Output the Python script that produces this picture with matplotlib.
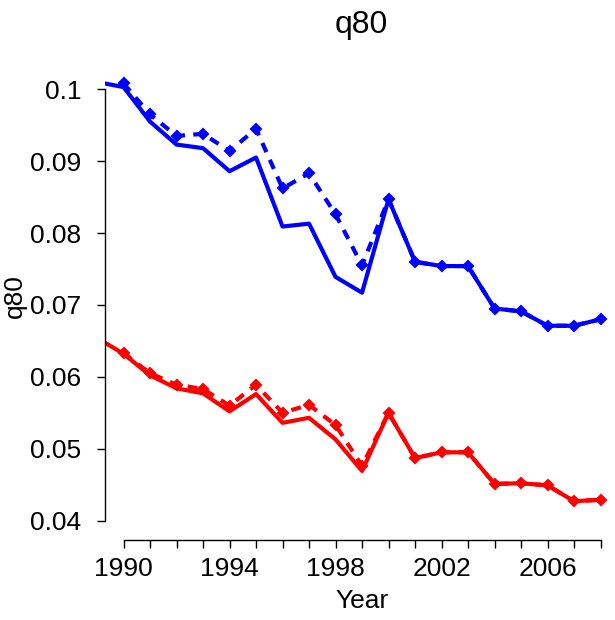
import matplotlib.pyplot as plt

plt.rcParams['font.family'] = ['Liberation Sans', 'DejaVu Sans']

years_solid = list(range(1989, 2009))
years_dash = list(range(1990, 2009))

blue_solid = [0.1010, 0.1003, 0.0955, 0.0923, 0.0918, 0.0886, 0.0905, 0.0809, 0.0813,
              0.0739, 0.0717, 0.0847, 0.0760, 0.0754, 0.0754, 0.0695, 0.0691, 0.0671,
              0.0671, 0.0680]
blue_dash = [0.1008, 0.0965, 0.0935, 0.0938, 0.0914, 0.0945, 0.0862, 0.0883, 0.0826,
             0.0755, 0.0847, 0.0760, 0.0754, 0.0754, 0.0695, 0.0691, 0.0671, 0.0671,
             0.0680]
red_solid = [0.0654, 0.0632, 0.0602, 0.0584, 0.0577, 0.0552, 0.0576, 0.0536, 0.0543,
             0.0513, 0.0469, 0.0550, 0.0487, 0.0495, 0.0495, 0.0451, 0.0452, 0.0449,
             0.0427, 0.0429]
red_dash = [0.0633, 0.0605, 0.0589, 0.0583, 0.0560, 0.0589, 0.0550, 0.0561, 0.0533,
            0.0476, 0.0550, 0.0487, 0.0495, 0.0495, 0.0451, 0.0452, 0.0449, 0.0427,
            0.0429]

yticks = [0.04, 0.05, 0.06, 0.07, 0.08, 0.09, 0.1]
ytick_labels = ["0.04", "0.05", "0.06", "0.07", "0.08", "0.09", "0.1"]
xlabel_years = [1990, 1994, 1998, 2002, 2006]

fig = plt.figure(figsize=(6.15, 6.2), dpi=100)
ax = fig.add_axes([0.1707, 0.129, 0.8273, 0.7561])

lw = 3
for ys, col in [(blue_solid, 'blue'), (red_solid, 'red')]:
    ax.plot(years_solid, ys, color=col, lw=lw, solid_joinstyle='round')
for ys, col in [(blue_dash, 'blue'), (red_dash, 'red')]:
    ax.plot(years_dash, ys, color=col, lw=lw, linestyle=(0, (2.4, 2.0)),
            marker='D', ms=5.5, mew=1.5, mec=col, mfc=col, clip_on=False)

ax.set_xlim(1989.3, 2008.5)
ax.set_ylim(0.0373, 0.1025)

for s in ['top', 'right']:
    ax.spines[s].set_visible(False)
ax.spines['left'].set_bounds(0.04, 0.1)
ax.spines['bottom'].set_bounds(1990, 2008)
ax.spines['left'].set_linewidth(1)
ax.spines['bottom'].set_linewidth(1)

ax.set_xticks(list(range(1990, 2009)))
ax.set_xticklabels([str(y) if y in xlabel_years else "" for y in range(1990, 2009)])
ax.set_yticks(yticks)
ax.set_yticklabels(ytick_labels)
ax.tick_params(axis='both', length=6, width=1, labelsize=19)
ax.tick_params(axis='x', pad=6)
ax.tick_params(axis='y', pad=11)

fig.text(0.588, 0.96, "q80", ha='center', va='center', fontsize=23)
fig.text(0.588, 0.03, "Year", ha='center', va='center', fontsize=19)
fig.text(0.025, 0.523, "q80", ha='center', va='center', rotation=90, fontsize=19)

fig.savefig("out.png", dpi=100)
